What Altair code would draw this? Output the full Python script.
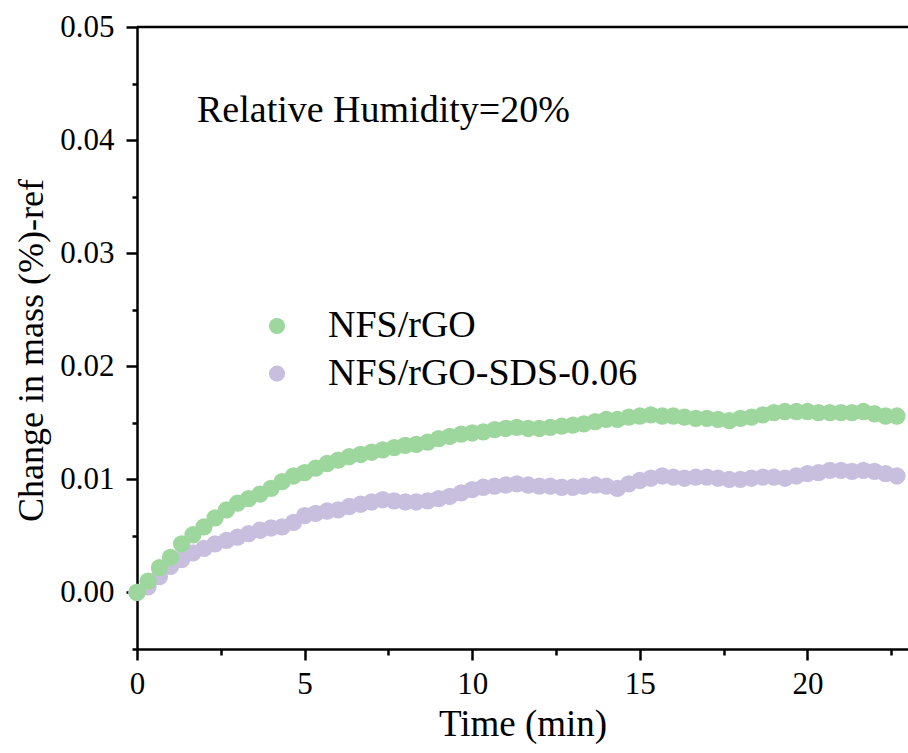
import altair as alt
import pandas as pd

# Time (min) of each sample
times = [0.00, 0.33, 0.67, 1.00, 1.33, 1.67, 2.00, 2.33, 2.67, 3.00,
         3.33, 3.67, 4.00, 4.33, 4.67, 5.00, 5.33, 5.67, 6.00, 6.33,
         6.67, 7.00, 7.33, 7.67, 8.00, 8.33, 8.67, 9.00, 9.33, 9.67,
         10.00, 10.33, 10.67, 11.00, 11.33, 11.67, 12.00, 12.33, 12.67, 13.00,
         13.33, 13.67, 14.00, 14.33, 14.67, 15.00, 15.33, 15.67, 16.00, 16.33,
         16.67, 17.00, 17.33, 17.67, 18.00, 18.33, 18.67, 19.00, 19.33, 19.67,
         20.00, 20.33, 20.67, 21.00, 21.33, 21.67, 22.00, 22.33, 22.67]

nfs_rgo = [0.0000, 0.0010, 0.0022, 0.0031, 0.0043, 0.0051, 0.0058, 0.0066, 0.0073, 0.0079,
           0.0083, 0.0087, 0.0092, 0.0098, 0.0103, 0.0106, 0.0110, 0.0114, 0.0117, 0.0120,
           0.0122, 0.0124, 0.0126, 0.0128, 0.0130, 0.0131, 0.0133, 0.0136, 0.0138, 0.0140,
           0.0141, 0.0142, 0.0144, 0.0145, 0.0146, 0.0145, 0.0145, 0.0146, 0.0147, 0.0148,
           0.0149, 0.0151, 0.0153, 0.0153, 0.0155, 0.0156, 0.0157, 0.0156, 0.0156, 0.0155,
           0.0154, 0.0154, 0.0153, 0.0152, 0.0154, 0.0155, 0.0157, 0.0159, 0.0160, 0.0160,
           0.0160, 0.0159, 0.0159, 0.0159, 0.0159, 0.0160, 0.0158, 0.0156, 0.0156]

nfs_rgo_sds = [0.0000, 0.0005, 0.0014, 0.0023, 0.0029, 0.0035, 0.0039, 0.0043, 0.0046, 0.0049,
               0.0052, 0.0055, 0.0057, 0.0058, 0.0062, 0.0068, 0.0070, 0.0072, 0.0073, 0.0076,
               0.0078, 0.0080, 0.0082, 0.0081, 0.0080, 0.0080, 0.0081, 0.0083, 0.0085, 0.0088,
               0.0091, 0.0093, 0.0094, 0.0095, 0.0096, 0.0095, 0.0094, 0.0094, 0.0093, 0.0093,
               0.0094, 0.0095, 0.0094, 0.0092, 0.0096, 0.0099, 0.0101, 0.0103, 0.0102, 0.0101,
               0.0102, 0.0102, 0.0101, 0.0100, 0.0100, 0.0101, 0.0102, 0.0102, 0.0101, 0.0103,
               0.0105, 0.0106, 0.0108, 0.0108, 0.0107, 0.0108, 0.0107, 0.0105, 0.0103]

series_names = ["NFS/rGO", "NFS/rGO-SDS-0.06"]
series_colors = ["#9dd79d", "#c8bfdf"]

x_ticks = [0, 2.5, 5, 7.5, 10, 12.5, 15, 17.5, 20, 22.5]
y_ticks = [-0.005, 0.0, 0.005, 0.01, 0.015, 0.02, 0.025, 0.03, 0.035, 0.04, 0.045, 0.05]

annotation_text = ["Relative Humidity=20%"]
annotation_x = [1.79]
annotation_y = [0.0416]

# purple first so the green series is drawn on top
df = pd.concat([
    pd.DataFrame({"t": times, "v": nfs_rgo_sds, "series": series_names[1]}),
    pd.DataFrame({"t": times, "v": nfs_rgo, "series": series_names[0]}),
], ignore_index=True)

FONT = "Liberation Serif"

x_major = "abs(round(datum.value*10) % 50) == 0"
y_major = "abs(round(datum.value*1000) % 10) == 0"

x_axis = alt.Axis(
    values=x_ticks,
    labelExpr=f"{x_major} ? format(datum.value, 'd') : ''",
    tickSize={"condition": {"test": x_major, "value": 11}, "value": 6},
    labelFontSize=31, labelFont=FONT, labelColor="black",
    labelBaseline="alphabetic", labelPadding=33,
    title="Time (min)", titleFontSize=37, titleFont=FONT, titleFontWeight="normal",
    titleColor="black", titleBaseline="alphabetic", titleY=86,
    domainColor="black", domainWidth=2.5, tickColor="black", tickWidth=2.5,
    grid=False, labelFlush=False, labelOverlap=False,
)

y_axis = alt.Axis(
    values=y_ticks,
    labelExpr=f"{y_major} ? format(datum.value, '.2f') : ''",
    tickSize={"condition": {"test": y_major, "value": 11}, "value": 5},
    labelFontSize=31, labelFont=FONT, labelColor="black", labelPadding=12,
    title="Change in mass (%)-ref", titleFontSize=36, titleFont=FONT,
    titleFontWeight="normal", titleColor="black", titleAngle=270,
    titleBaseline="alphabetic", titleAlign="center", titleX=-95, titleY=323,
    domainColor="black", domainWidth=2.5, tickColor="black", tickWidth=2.5,
    grid=False, labelFlush=False, labelOverlap=False,
)

points = alt.Chart(df).mark_circle(size=300, opacity=1).encode(
    x=alt.X("t:Q", scale=alt.Scale(domain=[0, 23], nice=False, zero=False), axis=x_axis),
    y=alt.Y("v:Q", scale=alt.Scale(domain=[-0.005, 0.05], nice=False, zero=False), axis=y_axis),
    color=alt.Color(
        "series:N",
        scale=alt.Scale(domain=series_names, range=series_colors),
        legend=alt.Legend(
            title=None, orient="none", legendX=121, legendY=280,
            labelFont=FONT, labelFontSize=38, labelColor="black", labelLimit=0,
            labelOffset=32, rowPadding=9.6, symbolType="circle",
            symbolSize=260, symbolStrokeWidth=0, symbolOpacity=1,
            labelBaseline="middle",
        ),
    ),
    order=alt.value(0),
)

ann_df = pd.DataFrame({"t": annotation_x, "v": annotation_y, "label": annotation_text})
annotation = alt.Chart(ann_df).mark_text(
    align="left", baseline="alphabetic", font=FONT, fontSize=38, color="black"
).encode(x="t:Q", y="v:Q", text="label:N")

top_border = alt.Chart(ann_df).mark_rule(color="black", strokeWidth=2.5).encode(
    x=alt.value(0), x2=alt.value(771), y=alt.value(0)
)

chart = alt.layer(points, annotation, top_border).properties(
    width=771, height=622,
    autosize=alt.AutoSizeParams(type="none"),
    padding={"left": 137, "top": 27, "right": 0, "bottom": 104},
).configure_view(stroke=None).configure(background="white")

chart.save("out.html", embed_options={"renderer": "svg", "actions": False})
